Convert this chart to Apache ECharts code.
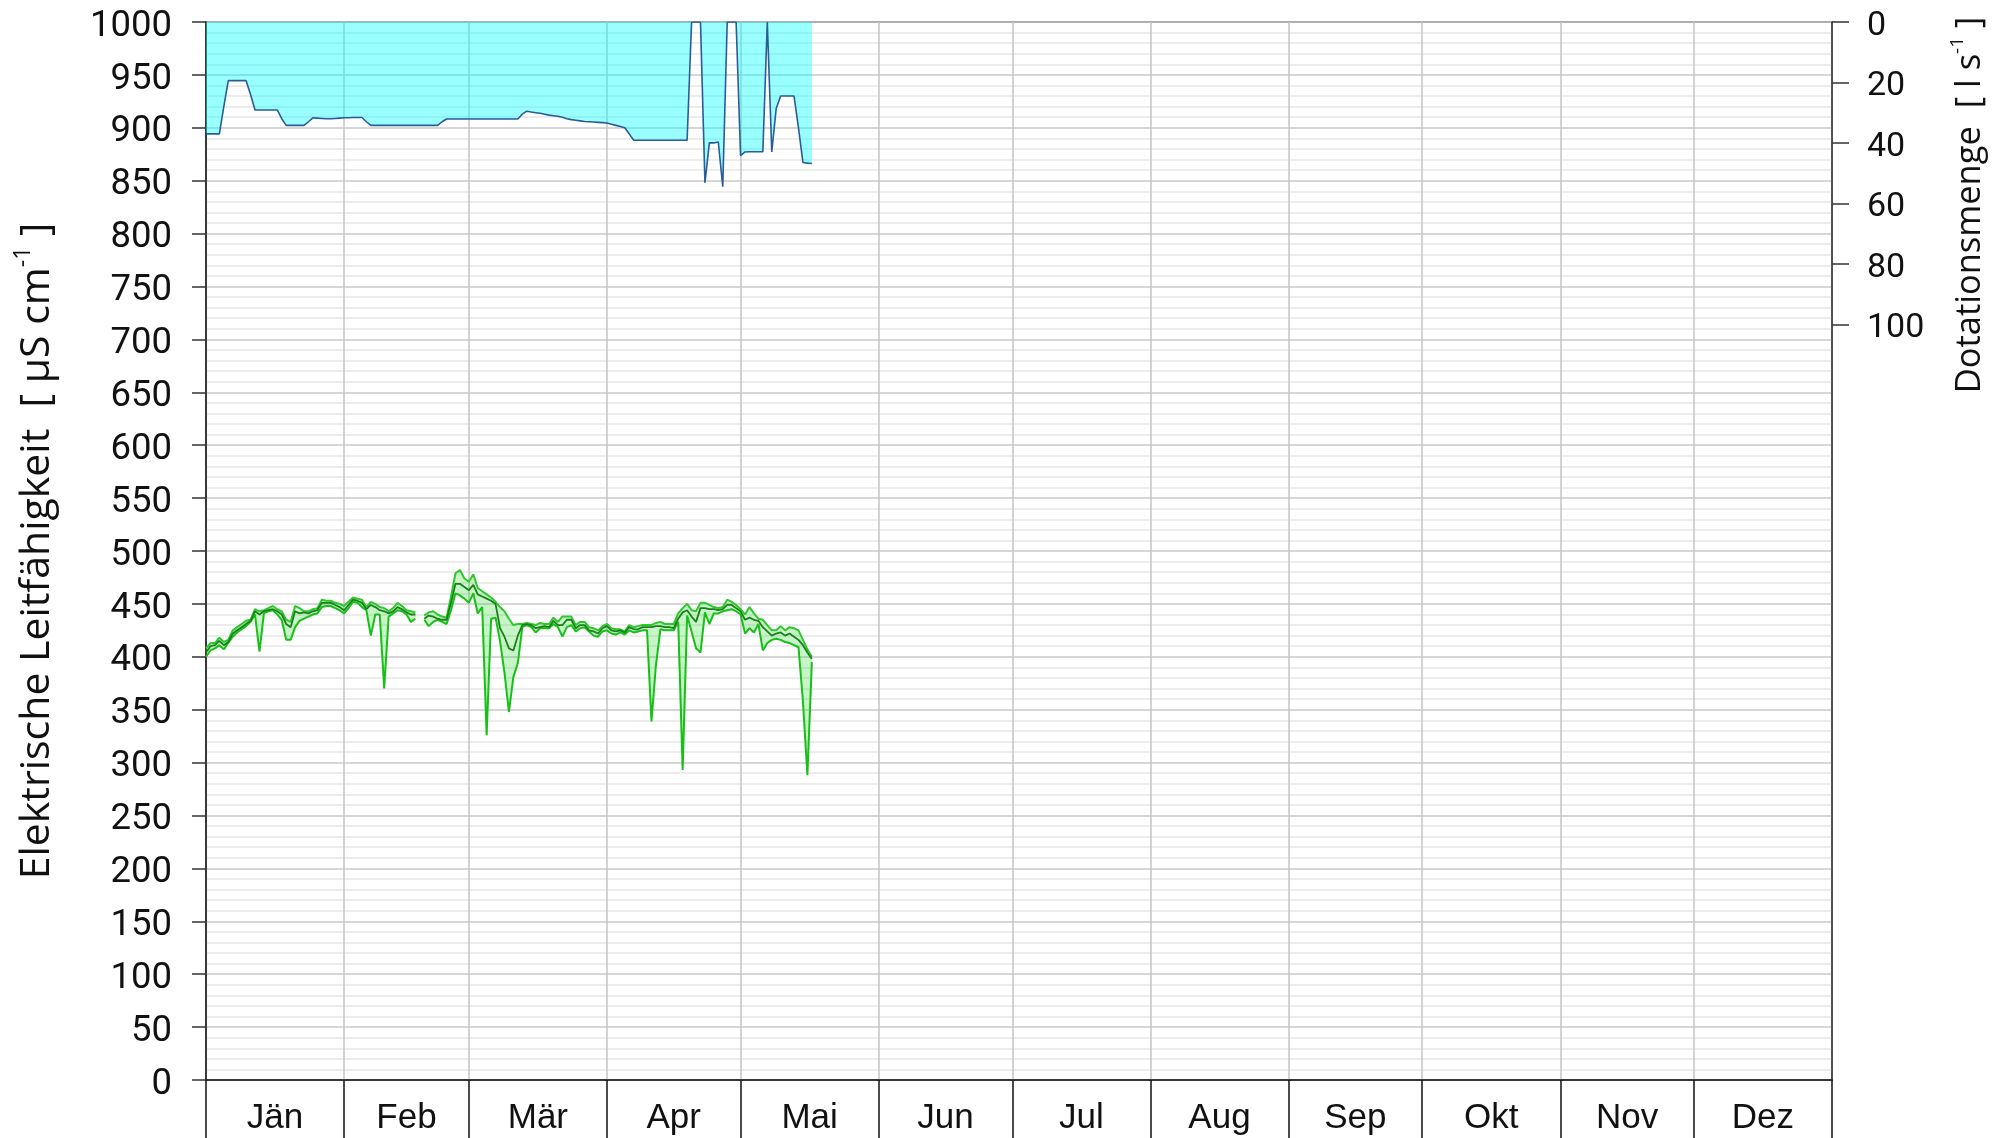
<!DOCTYPE html>
<html>
<head>
<meta charset="utf-8">
<script src="https://cdn.jsdelivr.net/npm/echarts@6/dist/echarts.min.js"></script>
<style>
  html, body { margin: 0; padding: 0; background: #fff; }
  #chart { width: 2009px; height: 1138px; }
</style>
</head>
<body>
<div id="chart"></div>
<script>
// Month names and first day-of-year of each month (non-leap year)
const monthNames = ['Jän', 'Feb', 'Mär', 'Apr', 'Mai', 'Jun', 'Jul', 'Aug', 'Sep', 'Okt', 'Nov', 'Dez'];
const monthStarts = [0, 31, 59, 90, 120, 151, 181, 212, 243, 273, 304, 334, 365];

// Right axis ticks (l/s)
const rightTicks = [0, 20, 40, 60, 80, 100];

// Daily dotation flow [l/s], day index 0 = 1 January
const dotation = [
  37, 37, 37, 37, 28, 19.4, 19.4, 19.4, 19.4, 19.4,
  24, 29.1, 29.1, 29.1, 29.1, 29.1, 29.1, 32, 34.2, 34.2,
  34.2, 34.2, 34.2, 33, 31.7, 31.8, 31.9, 32, 32, 31.9,
  31.8, 31.7, 31.7, 31.6, 31.6, 31.6, 33, 34.2, 34.2, 34.2,
  34.2, 34.2, 34.2, 34.2, 34.2, 34.2, 34.2, 34.2, 34.2, 34.2,
  34.2, 34.2, 34.2, 33, 32.1, 32.1, 32.1, 32.1, 32.1, 32.1,
  32.1, 32.1, 32.1, 32.1, 32.1, 32.1, 32.1, 32.1, 32.1, 32.1,
  32.1, 30.5, 29.5, 29.8, 30.0, 30.2, 30.5, 30.8, 31.0, 31.2,
  31.5, 32.0, 32.3, 32.5, 32.7, 32.9, 33.0, 33.1, 33.2, 33.3,
  33.4, 33.8, 34.2, 34.6, 35.0, 37.0, 39.1, 39.1, 39.1, 39.1,
  39.1, 39.1, 39.1, 39.1, 39.1, 39.1, 39.1, 39.1, 39.1, 0,
  0, 0, 53.2, 40, 40, 39.7, 54.5, 0, 0, 0,
  44.2, 43, 42.9, 42.9, 42.9, 42.9, 0, 43, 28.6, 24.5,
  24.5, 24.5, 24.5, 35, 46.5, 46.7, 46.8
];

// Daily electrical conductivity [µS/cm]: maximum, mean, minimum
const condMax = [
  408, 413, 413, 418, 414, 416, 425, 428, 431, 434,
  435, 445, 443, 444, 446, 448, 445, 443, 435, 433,
  448, 446, 443, 443, 445, 446, 454, 453, 453, 451,
  450, 448, 452, 456, 455, 454, 447, 452, 450, 447,
  446, 443, 446, 451, 448, 444, 443, 442, null, 439,
  442, 443, 440, 438, 437, 457, 479, 482, 474, 471,
  478, 465, 462, 459, 456, 452, 447, 443, 436, 430,
  431, 431, 432, 431, 430, 432, 431, 431, 437, 433,
  438, 438, 438, 430, 433, 433, 428, 427, 425, 429,
  431, 427, 426, 426, 424, 430, 428, 429, 430, 430,
  430, 432, 433, 431, 431, 431, 441, 446, 450, 444,
  443, 451, 451, 449, 447, 446, 447, 454, 452, 449,
  445, 440, 447, 441, 436, 435, 430, 425, 425, 429,
  425, 428, 427, 425, 416, 407, 400
];
const condMean = [
  404, 410, 411, 415, 411, 414, 422, 425, 428, 431,
  434, 443, 440, 443, 444, 445, 443, 440, 431, 428,
  443, 441, 442, 441, 443, 444, 451, 451, 451, 449,
  447, 444, 449, 454, 453, 451, 445, 449, 447, 444,
  443, 441, 443, 447, 445, 442, 440, 440, null, 436,
  439, 438, 436, 435, 435, 451, 469, 469, 466, 463,
  468, 459, 457, 455, 453, 450, 427, 419, 408, 406,
  420, 430, 431, 430, 427, 428, 429, 428, 434, 430,
  430, 435, 435, 427, 430, 430, 425, 424, 422, 427,
  429, 425, 424, 425, 423, 428, 426, 426, 428, 428,
  428, 429, 429, 428, 428, 427, 436, 442, 444, 438,
  433, 446, 446, 445, 445, 444, 445, 449, 449, 446,
  443, 435, 437, 435, 434, 428, 424, 420, 422, 423,
  420, 422, 419, 416, 411, 404, 398
];
const condMin = [
  400, 406, 408, 411, 407, 413, 419, 423, 426, 429,
  433, 440, 405, 441, 443, 444, 440, 435, 416, 416,
  428, 434, 436, 438, 440, 441, 447, 448, 448, 446,
  444, 441, 446, 452, 451, 447, 444, 420, 440, 440,
  370, 438, 441, 444, 443, 440, 433, 436, null, 435,
  429, 433, 435, 433, 431, 444, 460, 458, 455, 451,
  460, 441, 447, 326, 436, 437, 415, 385, 348, 381,
  394, 428, 430, 428, 423, 427, 427, 427, 431, 428,
  419, 428, 430, 424, 427, 428, 424, 420, 419, 424,
  425, 422, 421, 423, 421, 425, 423, 424, 425, 425,
  339, 392, 426, 425, 425, 425, 433, 293, 439, 424,
  408, 404, 442, 431, 441, 441, 443, 444, 445, 443,
  440, 422, 427, 423, 431, 406, 413, 416, 417, 416,
  414, 413, 411, 409, 358, 288, 395
];

const toPairs = arr => arr.map((v, i) => [i, v]);
const monthMids = monthNames.map((_, k) => (monthStarts[k] + monthStarts[k + 1]) / 2);

// Contiguous runs of days with min/max available, used for the band polygons
const bandRuns = [];
let runStart = null;
condMax.forEach((v, i) => {
  const ok = v != null && condMin[i] != null;
  if (ok && runStart === null) runStart = i;
  if ((!ok || i === condMax.length - 1) && runStart !== null) {
    bandRuns.push([runStart, ok ? i : i - 1]);
    runStart = null;
  }
});

const numFont = 'Roboto';
const textColor = '#111';

const chart = echarts.init(document.getElementById('chart'), null, { renderer: 'canvas' });

chart.setOption({
  animation: false,
  backgroundColor: '#ffffff',
  grid: {
    left: 206, right: 177, top: 22, bottom: 58,
    outerBoundsMode: 'none', containLabel: false,
    show: true, borderColor: '#333', borderWidth: 1.5, backgroundColor: 'transparent'
  },
  xAxis: {
    type: 'value', min: 0, max: 365,
    axisLine: { show: true, lineStyle: { color: '#111', width: 1.5 } },
    axisTick: {
      show: true, customValues: monthStarts, length: 60,
      lineStyle: { color: '#111', width: 1.5 }
    },
    axisLabel: {
      customValues: monthMids, margin: 21,
      fontFamily: 'Liberation Sans', fontSize: 35, color: textColor,
      formatter: v => monthNames[monthMids.indexOf(v)] || ''
    },
    splitLine: { show: true, lineStyle: { color: '#c4c4c4', width: 1.5 } }
  },
  yAxis: [
    {
      type: 'value', min: 0, max: 1000, interval: 50,
      name: '{t|Elektrische Leitfähigkeit  [ µS cm}{s|-1}{t| ]}',
      nameLocation: 'middle', nameGap: 144, nameRotate: 90,
      nameTextStyle: {
        rich: {
          t: { fontFamily: 'Open Sans', fontSize: 41, color: textColor, lineHeight: 50 },
          s: { fontFamily: 'Open Sans', fontSize: 23, color: textColor, lineHeight: 50, verticalAlign: 'top', padding: [0, 0, 18, 0] }
        }
      },
      axisLine: { show: true, lineStyle: { color: '#111', width: 1.5 } },
      axisTick: { show: true, length: 14, lineStyle: { color: '#333', width: 1.5 } },
      axisLabel: {
        margin: 34,
        formatter: v => '{n|' + v + '}',
        rich: { n: { fontFamily: numFont, fontSize: 36.5, color: textColor, padding: [9, 0, 0, 0] } }
      },
      splitLine: { show: true, lineStyle: { color: '#c8c8c8', width: 1.5 } },
      minorTick: { show: false, splitNumber: 5 },
      minorSplitLine: { show: true, lineStyle: { color: '#e6e6e6', width: 1.5 } }
    },
    {
      type: 'value', min: 0, max: 350, inverse: true, position: 'right',
      axisLine: { show: true, lineStyle: { color: '#333', width: 1.5 } },
      axisTick: { show: true, customValues: rightTicks, length: 17, lineStyle: { color: '#333', width: 1.5 } },
      axisLabel: {
        customValues: rightTicks, margin: 35,
        formatter: v => '{n|' + v + '}',
        rich: { n: { fontFamily: numFont, fontSize: 34, color: textColor, padding: [9, 0, 0, 0] } }
      },
      splitLine: { show: false }
    }
  ],
  graphic: [{
    type: 'text',
    x: 1970, y: 205,
    rotation: Math.PI / 2,
    style: {
      text: '{t|Dotationsmenge  [ l s}{s|-1}{t| ]}',
      align: 'center', verticalAlign: 'middle',
      rich: {
        t: { fontFamily: 'Open Sans', fontSize: 34.5, fill: textColor, lineHeight: 44 },
        s: { fontFamily: 'Open Sans', fontSize: 19, fill: textColor, lineHeight: 44, verticalAlign: 'top', padding: [0, 0, 15, 0] }
      }
    }
  }],
  series: [
    {
      name: 'Dotation', type: 'line', yAxisIndex: 1,
      data: toPairs(dotation), symbol: 'none',
      lineStyle: { color: '#2a5c98', width: 1.6 },
      areaStyle: { color: 'rgba(0,255,255,0.4)', opacity: 1 },
      z: 2
    },
    {
      name: 'Bereich', type: 'custom',
      data: bandRuns,
      encode: { x: [0, 1] },
      renderItem: (params, api) => {
        const s = api.value(0), e = api.value(1);
        const pts = [];
        for (let i = s; i <= e; i++) pts.push(api.coord([i, condMax[i]]));
        for (let i = e; i >= s; i--) pts.push(api.coord([i, condMin[i]]));
        return {
          type: 'polygon',
          shape: { points: pts },
          style: { fill: 'rgba(40,215,40,0.26)', stroke: 'none' }
        };
      },
      z: 3
    },
    {
      name: 'Maximum', type: 'line', data: toPairs(condMax), symbol: 'none',
      lineStyle: { color: '#2ec82e', width: 2 }, z: 4
    },
    {
      name: 'Minimum', type: 'line', data: toPairs(condMin), symbol: 'none',
      lineStyle: { color: '#17c017', width: 2 }, z: 4
    },
    {
      name: 'Mittelwert', type: 'line', data: toPairs(condMean), symbol: 'none',
      lineStyle: { color: '#1a801a', width: 1.8 }, z: 5
    }
  ]
});
</script>
</body>
</html>
